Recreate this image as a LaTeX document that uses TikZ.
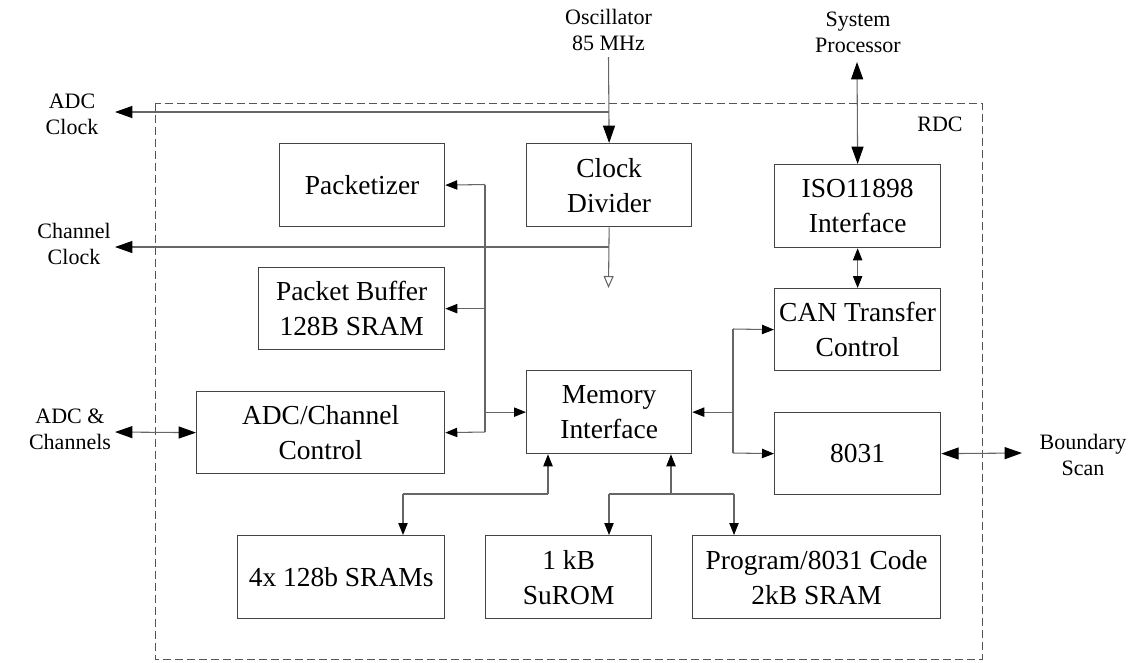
\documentclass[tikz,border=0pt]{standalone}
\usepackage{fontspec}
\setmainfont{Liberation Serif}
\usetikzlibrary{arrows.meta}
\definecolor{boxgray}{HTML}{444444}
\definecolor{wiregray}{HTML}{666666}
\definecolor{framegray}{HTML}{555555}
\begin{document}
\begin{tikzpicture}[x=0.75pt,y=-0.75pt,
  blk/.style={draw=boxgray, line width=0.95pt, inner sep=0pt, align=center,
    font=\fontsize{20.6}{26.25}\selectfont, anchor=north west},
  sz/.style 2 args={minimum width=#1*0.75pt, minimum height=#2*0.75pt},
  lbl/.style={align=center, inner sep=0pt, font=\fontsize{16.5}{19.5}\selectfont},
  wire/.style={draw=wiregray, line width=0.8pt},
  bigto/.style={wire, -{Triangle[length=13pt,width=9pt,color=black]}},
  bigboth/.style={wire, {Triangle[length=13pt,width=9pt,color=black]}-{Triangle[length=13pt,width=9pt,color=black]}},
  smallto/.style={wire, -{Triangle[length=9pt,width=7pt,color=black]}},
  smallboth/.style={wire, {Triangle[length=9pt,width=7pt,color=black]}-{Triangle[length=9pt,width=7pt,color=black]}},
  frame/.style={draw=framegray, line width=0.6pt, dash pattern=on 6pt off 3pt}
]
\useasboundingbox (0,0) rectangle (1134,662);

% RDC chip outline
\draw[frame] (155,103) rectangle (982,659);
\node[lbl] (rdc) at (940,124) {RDC};

% functional blocks
\node[blk, sz={165}{83}] (pkt) at (279,143) {Packetizer};
\node[blk, sz={165}{83}] (clk) at (526,143) {Clock\\Divider};
\node[blk, sz={186}{82}] (buf) at (258,267) {Packet Buffer\\128B SRAM};
\node[blk, sz={248}{82}] (adcc) at (196,391) {ADC/Channel\\Control};
\node[blk, sz={165}{83}] (mem) at (526,370) {Memory\\Interface};
\node[blk, sz={166}{83}] (iso) at (774,164) {ISO11898\\Interface};
\node[blk, sz={166}{82}] (can) at (774,288) {CAN Transfer\\Control};
\node[blk, sz={166}{82}] (cpu) at (774,412) {8031};
\node[blk, sz={207}{83}] (sram4) at (237,535) {4x 128b SRAMs};
\node[blk, sz={166}{83}] (surom) at (485,535) {1 kB\\SuROM};
\node[blk, sz={248}{83}] (prog) at (692,535) {Program/8031 Code\\2kB SRAM};

% external signal labels
\node[lbl] (osc) at (608.5,30) {Oscillator\\85 MHz};
\node[lbl] (adclk) at (72,114) {ADC\\Clock};
\node[lbl] (chclk) at (74,244) {Channel\\Clock};
\node[lbl] (adcin) at (70,429) {ADC \&\\Channels};
\node[lbl] (sys) at (858,32) {System\\Processor};
\node[lbl] (bscan) at (1083,455) {Boundary\\Scan};

% clock distribution
\coordinate (oscOut) at (608.5,57);
\coordinate (adcJ) at (608.5,112);
\coordinate (adcEnd) at (115,112);
\coordinate (chJ) at (608.5,247);
\coordinate (chEnd) at (115,247);
\coordinate (gnd) at (608.5,288);
\draw[bigto] (oscOut) -- (clk.north);
\draw[bigto] (adcJ) -- (adcEnd);
\draw[bigto] (chJ) -- (chEnd);
\draw[wire, -{Triangle[open,length=9pt,width=7.5pt,color=wiregray]}] (clk.south) -- (gnd);

% left bus
\coordinate (lb1) at (485,184.5);
\coordinate (lb2) at (485,432);
\draw[wire] (lb1) -- (lb2);
\draw[smallto] (lb1) -- (pkt.east);
\draw[smallto] (lb1 |- buf.east) -- (buf.east);
\draw[smallto] (lb1 |- mem.west) -- (mem.west);
\draw[smallto] (lb2) -- (adcc.east);

% ADC input
\coordinate (adcEdge) at (115,432);
\draw[bigboth] (adcEdge) -- (adcc.west);

% right bus
\coordinate (rb1) at (733,329);
\coordinate (rb2) at (733,453);
\draw[wire] (rb1) -- (rb2);
\draw[smallto] (rb1) -- (can.west);
\draw[smallto] (rb2) -- (cpu.west);
\draw[smallto] (rb1 |- mem.east) -- (mem.east);

% CAN side
\coordinate (sysEnd) at (857,62);
\draw[bigboth] (sysEnd) -- (iso.north);
\draw[smallboth] (iso.south) -- (can.north);

% boundary scan
\coordinate (bsEnd) at (1022,453);
\draw[bigboth] (cpu.east) -- (bsEnd);

% memory bus
\coordinate (mA) at (548,494);
\coordinate (mB) at (403,494);
\coordinate (mC) at (671,494);
\coordinate (mD) at (609,494);
\coordinate (mE) at (734,494);
\draw[smallto] (mA) -- (mA |- mem.south);
\draw[wire] (mA) -- (mB);
\draw[smallto] (mB) -- (mB |- sram4.north);
\draw[smallto] (mC) -- (mC |- mem.south);
\draw[wire] (mD) -- (mE);
\draw[smallto] (mD) -- (mD |- surom.north);
\draw[smallto] (mE) -- (mE |- prog.north);
\end{tikzpicture}
\end{document}
